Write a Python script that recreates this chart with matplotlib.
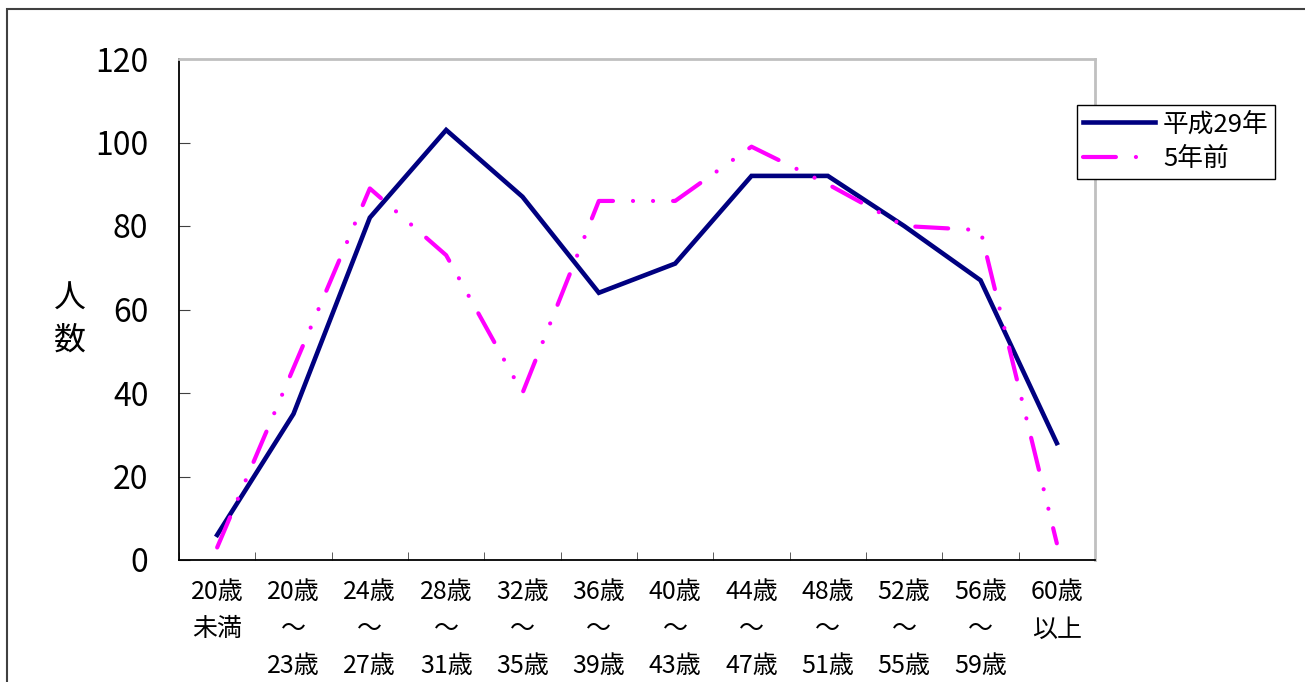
import matplotlib
matplotlib.use("Agg")
import matplotlib.pyplot as plt
from matplotlib.patches import Rectangle

plt.rcParams['font.family'] = ['Noto Sans CJK JP', 'DejaVu Sans']

categories = ["20歳\n未満", "20歳\n～\n23歳", "24歳\n～\n27歳", "28歳\n～\n31歳",
              "32歳\n～\n35歳", "36歳\n～\n39歳", "40歳\n～\n43歳", "44歳\n～\n47歳",
              "48歳\n～\n51歳", "52歳\n～\n55歳", "56歳\n～\n59歳", "60歳\n以上"]
h29 = [6, 35, 82, 103, 87, 64, 71, 92, 92, 80, 67, 28]   # 平成29年
before5 = [3, 46, 89, 73, 40, 86, 86, 99, 90, 80, 79, 4]  # 5年前
yticks = [0, 20, 40, 60, 80, 100, 120]

fig = plt.figure(figsize=(13.05, 6.82), dpi=100)
ax = fig.add_axes([179 / 1305, 1 - 560 / 682, (1095 - 179) / 1305, (560 - 59) / 682])

x = list(range(len(categories)))
ax.plot(x, h29, color="#000080", lw=3.3, label="平成29年", solid_joinstyle="miter")
line2, = ax.plot(x, before5, color="#FF00FF", lw=3, label="5年前", dash_capstyle="round")
line2.set_dashes([7.9, 4.8, 0.01, 4.8, 0.01, 4.8])

ax.set_xlim(-0.5, len(categories) - 0.5)
ax.set_ylim(0, 120)
ax.set_yticks(yticks)
ax.set_xticks(x)
ax.set_xticklabels(categories, fontsize=18, linespacing=1.55, va="top")
ax.set_xticks([i + 0.5 for i in range(-1, len(categories))], minor=True)
ax.tick_params(axis="x", which="major", length=0, pad=14)
ax.tick_params(axis="x", which="minor", direction="in", length=6, color="#404040")
ax.tick_params(axis="y", direction="in", length=8, labelsize=23, pad=22, color="#404040")

for side in ["top", "right"]:
    ax.spines[side].set_color("#c0c0c0")
    ax.spines[side].set_linewidth(2)
for side in ["left", "bottom"]:
    ax.spines[side].set_color("black")
    ax.spines[side].set_linewidth(1.3)

fig.text(70 / 1305, 1 - 320 / 682, "人\n数", fontsize=23, ha="center", va="center",
         linespacing=1.4)

ax.legend(loc="upper left", bbox_to_anchor=(1077 / 1305, 1 - 105 / 682),
          bbox_transform=fig.transFigure, borderaxespad=0, fontsize=18.5,
          frameon=True, fancybox=False, edgecolor="black", framealpha=1,
          handlelength=2.8, handletextpad=0.3, labelspacing=0.35, borderpad=0.25)

# outer frame of the chart area
fig.patches.append(Rectangle((7 / 1305, -0.1), 1.2, 1 - 9 / 682 + 0.1,
                             transform=fig.transFigure, fill=False,
                             edgecolor="#404040", lw=1.5))

fig.savefig("out.png", dpi=100)
